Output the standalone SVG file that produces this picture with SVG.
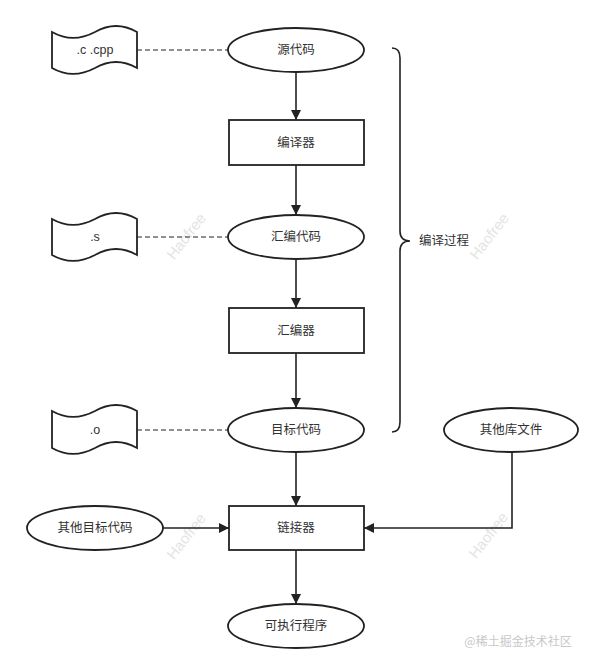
<svg xmlns="http://www.w3.org/2000/svg" width="593" height="669" viewBox="0 0 593 669">
<defs>
<marker id="arr" viewBox="0 0 10 10" refX="10" refY="5" markerWidth="10" markerHeight="10" markerUnits="userSpaceOnUse" orient="auto">
<path d="M0,0 L10,5 L0,10 Z" fill="#222"/>
</marker>
<style>
.shape{fill:#fff;stroke:#222;stroke-width:1.8}
.line{fill:none;stroke:#222;stroke-width:1.6}
.dash{fill:none;stroke:#222;stroke-width:1;stroke-dasharray:5,3}
.t{font-family:"Liberation Sans","Noto Sans CJK SC",sans-serif;font-size:12.5px;fill:#333;text-anchor:middle;dominant-baseline:central}
.wm{font-family:"Liberation Sans",sans-serif;font-size:15px;fill:#e4e4e4;text-anchor:middle;dominant-baseline:central}
.wm2{font-family:"Noto Sans CJK SC",sans-serif;font-size:12px;fill:#c8c8c8;text-anchor:middle;dominant-baseline:central}
</style>
</defs>
<rect width="593" height="669" fill="#fff"/>

<g id="watermarks">
<text class="wm" transform="translate(186,236) rotate(-52)">Haofree</text>
<text class="wm" transform="translate(489,236) rotate(-52)">Haofree</text>
<text class="wm" transform="translate(186,536) rotate(-52)">Haofree</text>
<text class="wm" transform="translate(488,535) rotate(-52)">Haofree</text>
<text class="wm2" x="518" y="640">@稀土掘金技术社区</text>
</g>

<g id="connectors">
<line class="dash" x1="137" y1="50" x2="228" y2="50"/>
<line class="dash" x1="137" y1="237" x2="228" y2="237"/>
<line class="dash" x1="137" y1="430" x2="228" y2="430"/>
<line class="line" x1="296" y1="72" x2="296" y2="120" marker-end="url(#arr)"/>
<line class="line" x1="296" y1="165" x2="296" y2="215" marker-end="url(#arr)"/>
<line class="line" x1="296" y1="259" x2="296" y2="308" marker-end="url(#arr)"/>
<line class="line" x1="296" y1="353" x2="296" y2="408" marker-end="url(#arr)"/>
<line class="line" x1="296" y1="452" x2="296" y2="506" marker-end="url(#arr)"/>
<line class="line" x1="296" y1="550" x2="296" y2="604" marker-end="url(#arr)"/>
<line class="line" x1="163" y1="528" x2="229" y2="528" marker-end="url(#arr)"/>
<path class="line" d="M512,452 L512,528 L364,528" marker-end="url(#arr)"/>
</g>

<g id="brace">
<path class="line" d="M392,48 Q400,48 400,58 L400,231 Q400,241 410,241 Q400,241 400,251 L400,422 Q400,432 392,432"/>
<text class="t" x="444" y="241">编译过程</text>
</g>

<g id="tape-c">
<path class="shape" d="M52,32 C66,40 80,40 95,32 C109,24 123,24 137,32 L137,68 C123,60 109,60 95,68 C80,76 66,76 52,68 Z"/>
<text class="t" x="95" y="50">.c .cpp</text>
</g>
<g id="tape-s">
<path class="shape" d="M52,219 C66,227 80,227 95,219 C109,211 123,211 137,219 L137,255 C123,247 109,247 95,255 C80,263 66,263 52,255 Z"/>
<text class="t" x="95" y="237">.s</text>
</g>
<g id="tape-o">
<path class="shape" d="M52,411 C66,419 80,419 95,411 C109,403 123,403 137,411 L137,448 C123,440 109,440 95,448 C80,456 66,456 52,448 Z"/>
<text class="t" x="95" y="430">.o</text>
</g>

<g id="src">
<ellipse class="shape" cx="296" cy="50" rx="68" ry="22"/>
<text class="t" x="296" y="50">源代码</text>
</g>
<g id="compiler">
<rect class="shape" x="229" y="120" width="135" height="45"/>
<text class="t" x="296" y="143">编译器</text>
</g>
<g id="asm">
<ellipse class="shape" cx="296" cy="237" rx="68" ry="22"/>
<text class="t" x="296" y="237">汇编代码</text>
</g>
<g id="assembler">
<rect class="shape" x="229" y="308" width="135" height="45"/>
<text class="t" x="296" y="331">汇编器</text>
</g>
<g id="obj">
<ellipse class="shape" cx="296" cy="430" rx="68" ry="22"/>
<text class="t" x="296" y="430">目标代码</text>
</g>
<g id="libs">
<ellipse class="shape" cx="511" cy="430" rx="67" ry="22"/>
<text class="t" x="511" y="430">其他库文件</text>
</g>
<g id="otherobj">
<ellipse class="shape" cx="95" cy="528" rx="68" ry="22"/>
<text class="t" x="95" y="528">其他目标代码</text>
</g>
<g id="linker">
<rect class="shape" x="229" y="506" width="135" height="44"/>
<text class="t" x="296" y="528">链接器</text>
</g>
<g id="exe">
<ellipse class="shape" cx="296" cy="626" rx="68" ry="22"/>
<text class="t" x="296" y="626">可执行程序</text>
</g>
</svg>
